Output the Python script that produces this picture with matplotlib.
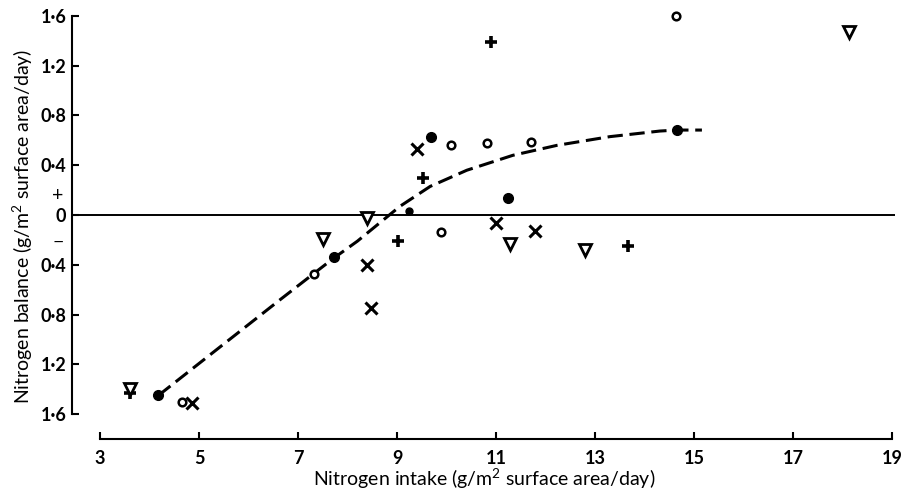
import matplotlib
matplotlib.use("Agg")
import matplotlib.pyplot as plt

plt.rcParams['font.family'] = ['Lato', 'DejaVu Sans']
plt.rcParams['mathtext.fontset'] = 'custom'
plt.rcParams['mathtext.rm'] = 'Lato'
plt.rcParams['mathtext.it'] = 'Lato:italic'

# data (x = N intake, y = N balance)
open_x = [4.65, 7.33, 9.89, 10.10, 10.81, 11.71, 14.63]
open_y = [-1.50, -0.47, -0.14, 0.56, 0.58, 0.59, 1.60]

filled_x = [4.18, 7.73, 9.69, 11.24, 14.65]
filled_y = [-1.45, -0.34, 0.63, 0.14, 0.68]
small_dot_x = [9.24]
small_dot_y = [0.03]

cross_x = [4.86, 8.39, 8.47, 9.40, 10.99, 11.79]
cross_y = [-1.51, -0.40, -0.75, 0.53, -0.06, -0.13]

plus_x = [3.61, 9.03, 9.53, 10.90, 13.67]
plus_y = [-1.43, -0.21, 0.30, 1.39, -0.25]

tri_x = [3.61, 7.51, 8.39, 11.28, 12.80, 18.14]
tri_y = [-1.40, -0.19, -0.02, -0.23, -0.28, 1.47]

# dashed fitted curve
curve_x = [4.18, 6.64, 7.32, 7.71, 8.20, 8.66, 9.06, 9.67, 10.41, 11.34,
           12.23, 13.30, 14.31, 14.65, 15.16]
curve_y = [-1.45, -0.68, -0.47, -0.35, -0.21, -0.06, 0.07, 0.23, 0.36, 0.48,
           0.56, 0.63, 0.675, 0.683, 0.683]

xticks = [3, 5, 7, 9, 11, 13, 15, 17, 19]
yticks = [1.6, 1.2, 0.8, 0.4, 0, -0.4, -0.8, -1.2, -1.6]
ytick_labels = ['1·6', '1·2', '0·8', '0·4', '0', '0·4', '0·8', '1·2', '1·6']

fig = plt.figure(figsize=(9.04, 4.90), dpi=100)
ax = fig.add_axes([0.0794, 0.1041, 0.9128, 0.8684])
ax.set_xlim(2.43, 19.1)
ax.set_ylim(-1.80, 1.62)

# zero line
ax.hlines(0, 2.43, 19.06, color='black', lw=1.4)

line, = ax.plot(curve_x, curve_y, color='black', lw=2.2)
line.set_dashes([5, 2.2])

mk = dict(linestyle='none', clip_on=False)
ax.plot(open_x, open_y, marker='o', ms=5.5, mfc='white', mec='black', mew=1.8, **mk)
ax.plot(filled_x, filled_y, marker='o', ms=7, color='black', **mk)
ax.plot(small_dot_x, small_dot_y, marker='o', ms=5, color='black', **mk)
ax.plot(cross_x, cross_y, marker='x', ms=8, mec='black', mew=2.2, **mk)
ax.plot(plus_x, plus_y, marker='+', ms=9, mec='black', mew=2.6, **mk)
ax.plot(tri_x, tri_y, marker='v', ms=8, mfc='white', mec='black', mew=2.0, **mk)

# spines
for side in ['top', 'right']:
    ax.spines[side].set_visible(False)
ax.spines['left'].set_bounds(-1.6, 1.6)
ax.spines['bottom'].set_bounds(3, 19)
ax.spines['left'].set_linewidth(1.5)
ax.spines['bottom'].set_linewidth(1.5)

ax.set_xticks(xticks)
ax.set_xticklabels([str(t) for t in xticks], fontweight='bold', fontsize=13)
ax.set_yticks(yticks)
ax.set_yticklabels(ytick_labels, fontweight='bold', fontsize=13)
ax.tick_params(direction='in', length=5, width=1.5)
ax.tick_params(axis='x', pad=8)
ax.tick_params(axis='y', pad=4)

# sign markers beside zero
ax.text(2.15, 0.16, '+', fontsize=14, ha='center', va='center', clip_on=False)
ax.text(2.15, -0.22, '−', fontsize=14, ha='center', va='center', clip_on=False)

ax.set_xlabel('Nitrogen intake (g/m$^2$ surface area/day)', fontsize=14, labelpad=0)
ax.set_ylabel('Nitrogen balance (g/m$^2$ surface area/day)', fontsize=14, labelpad=4)

fig.savefig('out.png', dpi=100, facecolor='white')
